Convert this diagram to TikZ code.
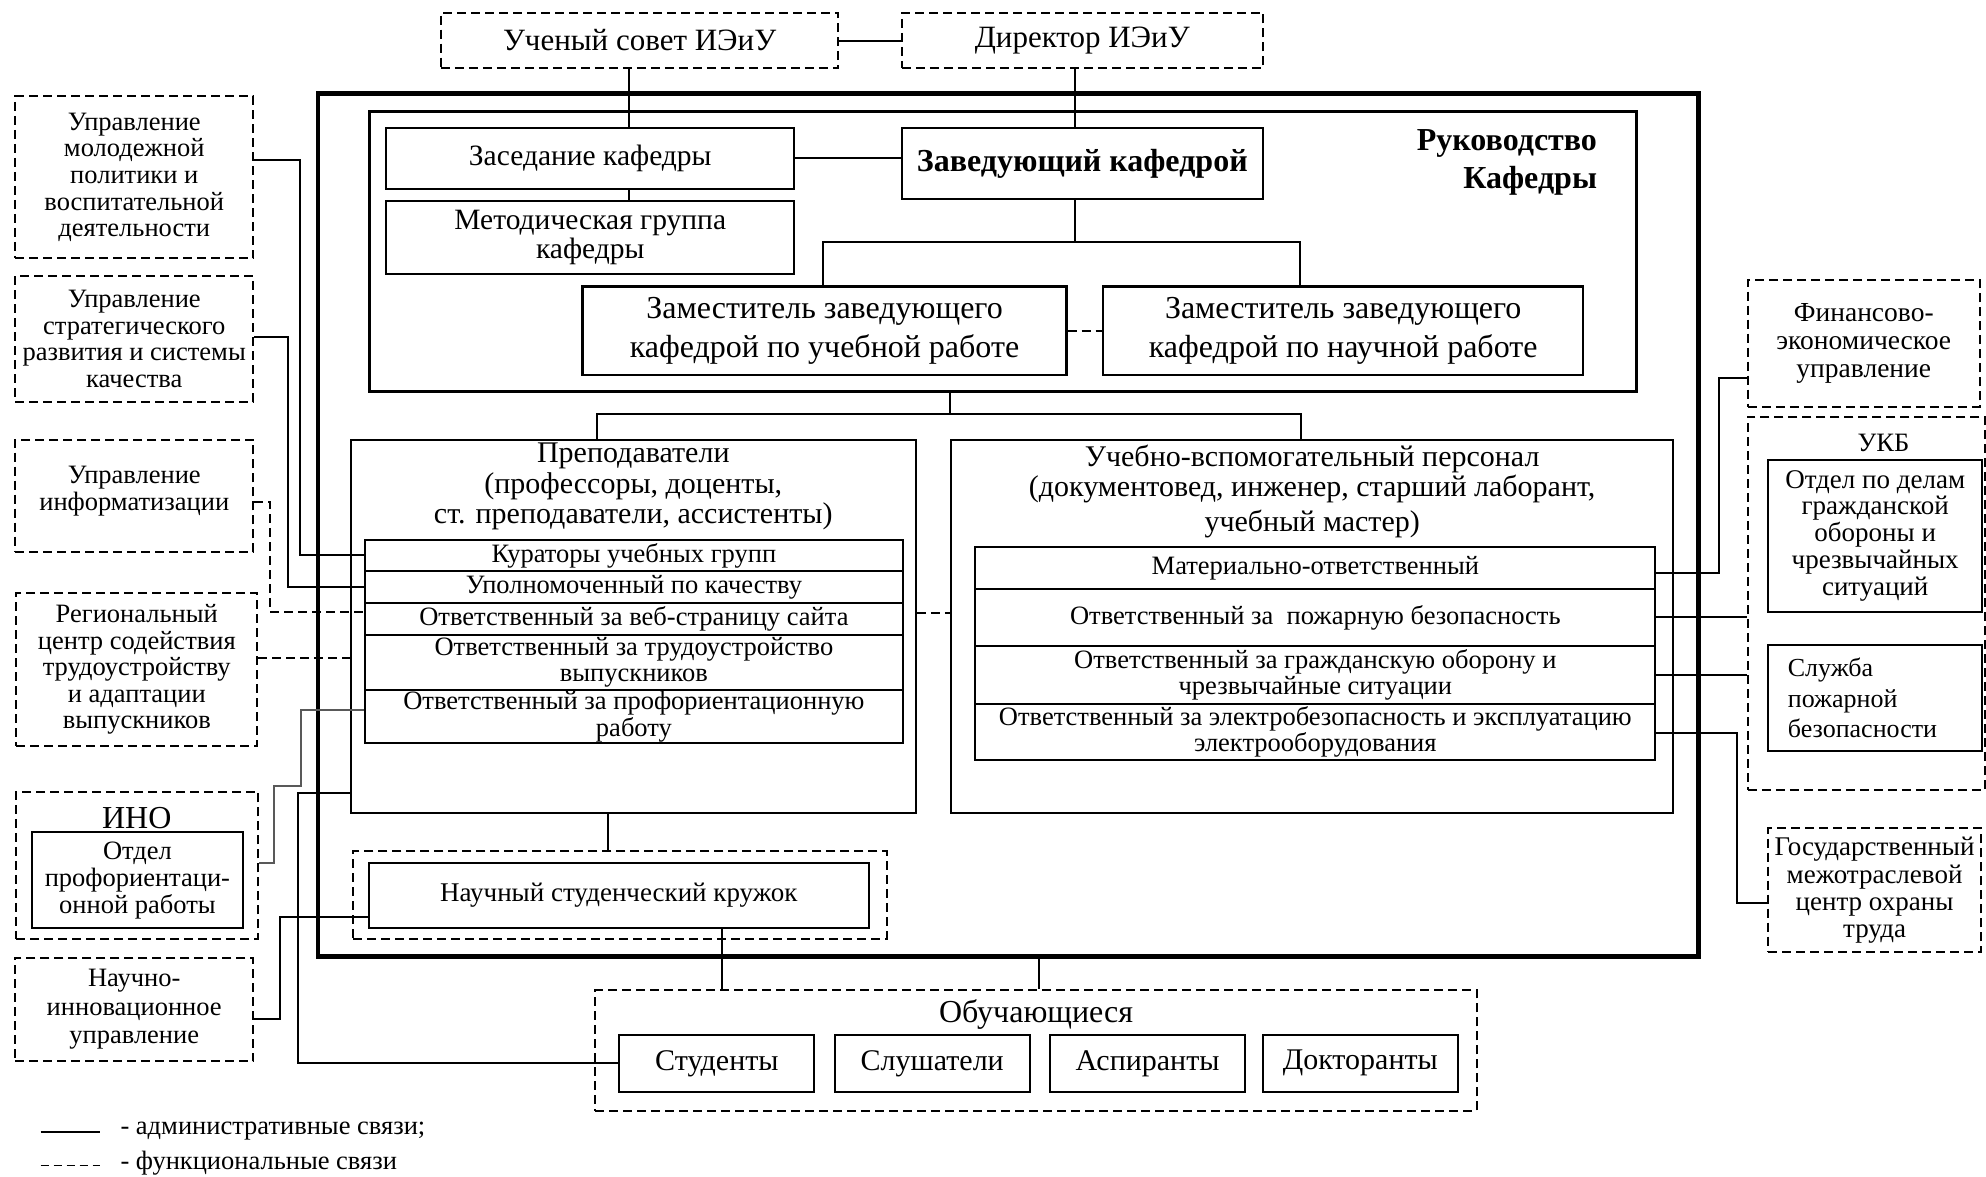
\documentclass[tikz,border=0pt]{standalone}
\usepackage{fontspec}
\setmainfont{Liberation Serif}
\usetikzlibrary{fit}
\newcommand\fz[2]{\fontsize{#1}{#2}\selectfont}
\begin{document}
\begin{tikzpicture}[x=1.2666pt,y=-1.2666pt,
  box/.style={draw, line width=2pt, inner sep=0pt},
  dbox/.style={draw, line width=2pt, dash pattern=on 9pt off 5pt, inner sep=0pt},
  tx/.style={align=center, inner sep=0pt},
  conn/.style={line width=2pt},
  dconn/.style={line width=2pt, dash pattern=on 9pt off 5pt},
  side/.style={tx, font=\fz{26.5}{26.6}},
  row/.style={tx, font=\fz{26.5}{26.6}},
  urow/.style={tx, font=\fz{26.5}{26}},
  stt/.style={tx, font=\fz{30}{32}}]
\useasboundingbox (0,0) rectangle (1568,929);

% top
\node[dbox, fit={(348,10) (662,54)}] (usov) {};
\node[tx, font=\fz{31}{36}] (usov-t) at (usov) {Ученый совет ИЭиУ};
\node[dbox, fit={(712,10) (997,54)}] (dir) {};
\node[tx, font=\fz{31}{36}] (dir-t) at (dir) {Директор ИЭиУ};

% outer and leadership
\node[draw, line width=4.5pt, inner sep=0pt, fit={(251,74) (1341,755)}] (outer) {};
\node[draw, line width=3pt, inner sep=0pt, fit={(292,88) (1292,309)}] (ruk) {};
\node[anchor=east, align=right, inner sep=0pt, font=\bfseries\fz{32}{38}] (rukt) at (1261,128) {Руководство\\Кафедры};
\node[box, fit={(305,101) (627,149)}] (zas) {};
\node[tx, font=\fz{29.5}{33}] (zas-t) at (zas) {Заседание кафедры};
\node[box, fit={(305,159) (627,216)}] (met) {};
\node[tx, font=\fz{29.5}{29}] (met-t) at (met) {Методическая группа\\кафедры};
\node[box, line width=2.5pt, fit={(712,101) (997,157)}] (zav) {};
\node[tx, font=\bfseries\fz{32}{36}] (zav-t) at (zav) {Заведующий кафедрой};
\node[box, line width=2.5pt, fit={(460,226) (842,296)}] (zamu) {};
\node[tx, font=\fz{32}{39.3}] (zamu-t) at (zamu) {Заместитель заведующего\\кафедрой по учебной работе};
\node[box, line width=2.5pt, fit={(871,226) (1250,296)}] (zamn) {};
\node[tx, font=\fz{32}{39.3}] (zamn-t) at (zamn) {Заместитель заведующего\\кафедрой по научной работе};

% teachers
\node[box, fit={(277,347) (723,642)}] (prep) {};
\node[tx, font=\fz{30}{30.4}] (prept) at (500,384) {Преподаватели\\(профессоры, доценты,\\ст. преподаватели, ассистенты)};
\node[box, fit={(288,426) (713,451)}] (kur) {};
\node[row] (kur-t) at (kur) {Кураторы учебных групп};
\node[box, fit={(288,451) (713,476)}] (upol) {};
\node[row] (upol-t) at (upol) {Уполномоченный по качеству};
\node[box, fit={(288,476) (713,501)}] (veb) {};
\node[row] (veb-t) at (veb) {Ответственный за веб-страницу сайта};
\node[box, fit={(288,501) (713,545)}] (trud) {};
\node[row] (trud-t) at (trud) {Ответственный за трудоустройство\\выпускников};
\node[box, fit={(288,545) (713,587)}] (prof) {};
\node[row] (prof-t) at (prof) {Ответственный за профориентационную\\работу};

% support staff
\node[box, fit={(751,347) (1321,642)}] (uvp) {};
\node[tx, font=\fz{30}{30.4}] (uvpt) at (1036,388) {Учебно-вспомогательный персонал\\(документовед, инженер, старший лаборант,\\[5pt]учебный мастер)};
\node[box, fit={(770,432) (1307,465)}] (mat) {};
\node[urow] (mat-t) at (mat) {Материально-ответственный};
\node[box, fit={(770,465) (1307,510)}] (pozh) {};
\node[urow] (pozh-t) at (pozh) {Ответственный за\ \ пожарную безопасность};
\node[box, fit={(770,510) (1307,556)}] (grazh) {};
\node[urow] (grazh-t) at (grazh) {Ответственный за гражданскую оборону и\\чрезвычайные ситуации};
\node[box, fit={(770,556) (1307,600)}] (elec) {};
\node[urow] (elec-t) at (elec) {Ответственный за электробезопасность и эксплуатацию\\электрооборудования};

% circle
\node[dbox, fit={(279,672) (700,741)}] (kruzho) {};
\node[box, fit={(291,681) (686,733)}] (kruzh) {};
\node[tx, font=\fz{27}{30}] (kruzh-t) at (kruzh) {Научный студенческий кружок};

% learners
\node[dbox, fit={(470,782) (1166,877)}] (obuch) {};
\node[tx, font=\fz{32}{34}] (obucht) at (818,801) {Обучающиеся};
\node[box, fit={(489,817) (643,862)}] (st) {};
\node[stt] (st-t) at (st) {Студенты};
\node[box, fit={(659,817) (813,862)}] (sl) {};
\node[stt] (sl-t) at (sl) {Слушатели};
\node[box, fit={(829,817) (983,862)}] (as) {};
\node[stt] (as-t) at (as) {Аспиранты};
\node[box, fit={(997,817) (1151,862)}] (dk) {};
\node[stt] (dk-t) at (dk) {Докторанты};

% left column
\node[dbox, fit={(12,76) (200,204)}] (molod) {};
\node[side] (molod-t) at (molod) {Управление\\молодежной\\политики и\\воспитательной\\деятельности};
\node[dbox, fit={(12,218) (200,317)}] (strat) {};
\node[side] (strat-t) at (strat) {Управление\\стратегического\\развития и системы\\качества};
\node[dbox, fit={(12,347) (200,436)}] (inform) {};
\node[side] (inform-t) at ([yshift=5pt]inform.center) {Управление\\информатизации};
\node[dbox, fit={(13,468) (203,589)}] (region) {};
\node[side] (region-t) at (region) {Региональный\\центр содействия\\трудоустройству\\и адаптации\\выпускников};
\node[dbox, fit={(13,625) (204,741)}] (inod) {};
\node[tx, font=\fz{32}{34}] (inot) at (108,646) {ИНО};
\node[box, fit={(25,657) (192,733)}] (inow) {};
\node[tx, font=\fz{26.5}{27.2}] (inow-t) at (inow) {Отдел\\профориентаци-\\онной работы};
\node[dbox, fit={(12,756) (200,838)}] (nauch) {};
\node[tx, font=\fz{26.5}{28.5}] (nauch-t) at (nauch) {Научно-\\инновационное\\управление};

% right column
\node[dbox, fit={(1380,221) (1563,321)}] (fin) {};
\node[tx, font=\fz{27.5}{27.9}] (fin-t) at (fin) {Финансово-\\экономическое\\управление};
\node[dbox, fit={(1380,329) (1567,624)}] (ukb) {};
\node[tx, font=\fz{26.5}{28}] (ukbt) at (1487,350) {УКБ};
\node[box, fit={(1396,363) (1565,483)}] (otdel) {};
\node[tx, font=\fz{27}{26.9}] (otdel-t) at (otdel) {Отдел по делам\\гражданской\\обороны и\\чрезвычайных\\ситуаций};
\node[box, fit={(1396,509) (1565,593)}] (sluzh) {};
\node[anchor=west, align=left, inner sep=0pt, font=\fz{26}{30.4}] (sluzht) at ([xshift=20.5pt]sluzh.west) {Служба\\пожарной\\безопасности};
\node[dbox, fit={(1396,654) (1564,752)}] (gos) {};
\node[tx, font=\fz{27}{27.4}] (gos-t) at (gos) {Государственный\\межотраслевой\\центр охраны\\труда};

% connectors: top
\coordinate (k1) at (497,0);
\coordinate (k2) at (849,0);
\draw[conn] (usov.east) -- (dir.west);
\draw[conn] (usov.south -| k1) -- (zas.north -| k1);
\draw[conn] (zas.south -| k1) -- (met.north -| k1);
\draw[conn] (dir.south -| k2) -- (zav.north -| k2);
\draw[conn] (zas.east) -- (zas.east -| zav.west);
\coordinate (k3) at (0,191);
\coordinate (k4) at (650,191);
\coordinate (k5) at (1026,191);
\draw[conn] (zav.south -| k2) -- (k3 -| k2);
\draw[conn] (zamu.north -| k4) -- (k4) -- (k5) -- (zamn.north -| k5);
\draw[dconn] (zamu.east) -- (zamn.west);

% leadership to staff
\coordinate (k6) at (750,327);
\coordinate (k7) at (471,327);
\coordinate (k8) at (1027,327);
\draw[conn] (ruk.south -| k6) -- (k6);
\draw[conn] (prep.north -| k7) -- (k7) -- (k8) -- (uvp.north -| k8);
\coordinate (k9) at (0,484);
\draw[dconn] (prep.east |- k9) -- (uvp.west |- k9);
\coordinate (k10) at (480,0);
\coordinate (k11) at (570,0);
\coordinate (k12) at (820,0);
\draw[conn] (prep.south -| k10) -- (kruzho.north -| k10);
\draw[conn] (kruzh.south -| k11) -- (obuch.north -| k11);
\draw[conn] (outer.south -| k12) -- (obuch.north -| k12);

% left connectors
\coordinate (m1) at (237,126);
\draw[conn] (molod.east |- m1) -- (m1) -- (m1 |- kur.west) -- (kur.west);
\coordinate (m2) at (227,266);
\draw[conn] (strat.east |- m2) -- (m2) -- (m2 |- upol.west) -- (upol.west);
\coordinate (m3) at (213,396);
\coordinate (m3b) at (213,483);
\draw[dconn] (inform.east |- m3) -- (m3) -- (m3b) -- (m3b -| veb.west);
\coordinate (m4) at (0,519.5);
\draw[dconn] (region.east |- m4) -- (prep.west |- m4);
\coordinate (m5) at (216,681);
\coordinate (m6) at (216,620.5);
\coordinate (m7) at (237.6,620.5);
\coordinate (m8) at (237.6,560.6);
\draw[conn, black!65] (inod.east |- m5) -- (m5) -- (m6) -- (m7) -- (m8) -- (m8 -| prof.west);
\coordinate (m9) at (221,804.5);
\coordinate (m10) at (221,724);
\draw[conn] (nauch.east |- m9) -- (m9) -- (m10) -- (m10 -| kruzh.west);
\coordinate (m11) at (235.5,626);
\draw[conn] (prep.west |- m11) -- (m11) -- (m11 |- st.west) -- (st.west);

% right connectors
\coordinate (r1) at (1357,452);
\coordinate (r2) at (1357,298.5);
\draw[conn] (mat.east |- r1) -- (r1) -- (r2) -- (r2 -| fin.west);
\draw[conn] (pozh.east) -- (pozh.east -| ukb.west);
\draw[conn] (grazh.east) -- (grazh.east -| ukb.west);
\coordinate (r3) at (1371,579);
\coordinate (r4) at (1371,713);
\draw[conn] (elec.east |- r3) -- (r3) -- (r4) -- (r4 -| gos.west);

% legend
\coordinate (l1) at (32,894);
\coordinate (l2) at (79,894);
\coordinate (l3) at (32,920);
\coordinate (l4) at (79,920);
\draw[conn] (l1) -- (l2);
\draw[line width=1.5pt, dash pattern=on 8pt off 5pt] (l3) -- (l4);
\node[anchor=west, inner sep=0pt, font=\fz{26.5}{28}] (leg1) at (95,893) {- административные связи;};
\node[anchor=west, inner sep=0pt, font=\fz{26.5}{28}] (leg2) at (95,918) {- функциональные связи};
\end{tikzpicture}
\end{document}
